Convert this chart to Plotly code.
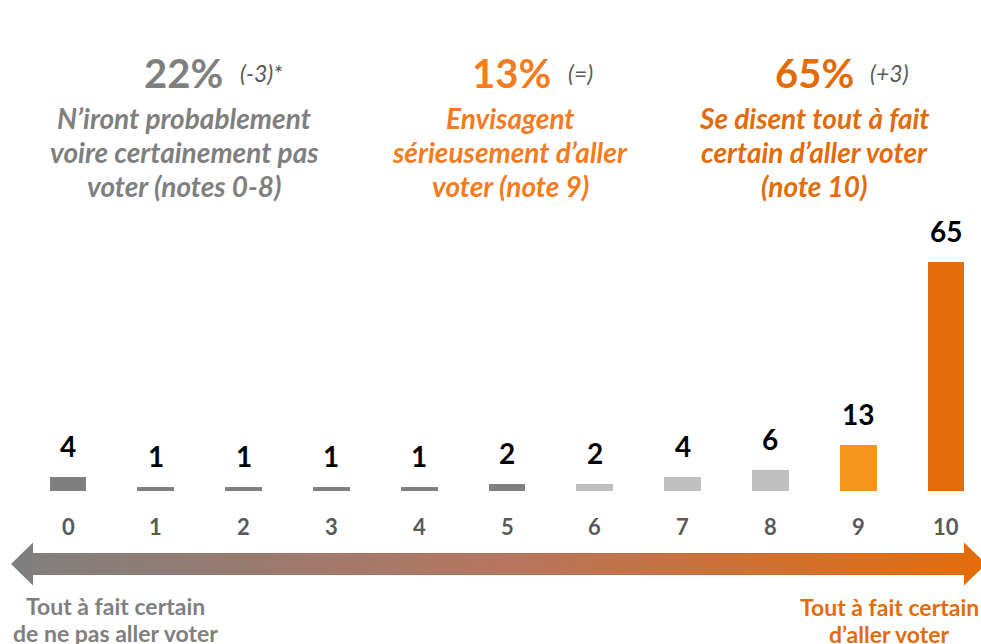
import plotly.graph_objects as go

# ---- data ----
categories = ["0", "1", "2", "3", "4", "5", "6", "7", "8", "9", "10"]
values = [4, 1, 1, 1, 1, 2, 2, 4, 6, 13, 65]
bar_colors = ["#7f7f7f"] * 6 + ["#bfbfbf"] * 3 + ["#f7941e", "#e46c0a"]

group_pct = ["22%", "13%", "65%"]
group_delta = ["(-3)*", "(=)", "(+3)"]
group_lines = [
    ["N’iront probablement", "voire certainement pas", "voter (notes 0-8)"],
    ["Envisagent", "sérieusement d’aller", "voter (note 9)"],
    ["Se disent tout à fait", "certain d’aller voter", "(note 10)"],
]
group_colors = ["#7f7f7f", "#f47b20", "#e36c0a"]
left_label = ["Tout à fait certain", "de ne pas aller voter"]
right_label = ["Tout à fait certain", "d’aller voter"]

# ---- layout constants (pixels) ----
W, H = 981, 644
FONT = "Lato"
x_px0, x_step = 68, 87.8          # pixel of category 0, pixel per category
base_px, unit_px = 491, 3.53      # pixel of y=0, pixels per unit

xr = [-x_px0 / x_step, (W - x_px0) / x_step]
yr = [-(H - base_px) / unit_px, base_px / unit_px]

fig = go.Figure()

# gradient arrow (decoration) in pixel axes
ay, half_shaft, half_head, head_len = 564, 11, 21.5, 22
left_tip, right_tip = 11, 986
arrow_x = [left_tip, left_tip + head_len, left_tip + head_len, right_tip - head_len,
           right_tip - head_len, right_tip, right_tip - head_len, right_tip - head_len,
           left_tip + head_len, left_tip + head_len, left_tip]
arrow_y = [ay, ay - half_head, ay - half_shaft, ay - half_shaft, ay - half_head, ay,
           ay + half_head, ay + half_shaft, ay + half_shaft, ay + half_head, ay]
fig.add_trace(go.Scatter(
    x=arrow_x, y=arrow_y, xaxis="x2", yaxis="y2", mode="lines",
    line=dict(width=0, color="rgba(0,0,0,0)"), fill="toself",
    fillgradient=dict(type="horizontal",
                      colorscale=[[0, "#7f7f7f"], [0.5, "#b57660"], [1, "#e46c0a"]]),
    hoverinfo="skip", showlegend=False,
))

fig.add_trace(go.Bar(
    x=list(range(len(categories))), y=values, width=0.42,
    marker=dict(color=bar_colors, line=dict(width=0)),
    showlegend=False, hoverinfo="skip",
))

ann = []
# value labels
for i, v in enumerate(values):
    ann.append(dict(x=i, y=v, xref="x", yref="y", text=f"<b>{v}</b>", showarrow=False,
                    yanchor="bottom", yshift=12,
                    font=dict(family=FONT, size=28, color="#000000")))
# category labels
for i, c in enumerate(categories):
    ann.append(dict(x=i, y=526, xref="x", yref="y2", text=f"<b>{c}</b>", showarrow=False,
                    yanchor="middle", font=dict(family=FONT, size=22, color="#595959")))

# headers
centers = [184, 510, 814]
pct_cx = [183, 511, 814]
delta_x = [238, 566, 868]
for g in range(3):
    ann.append(dict(x=pct_cx[g], y=73, xref="x2", yref="y2", text=f"<b>{group_pct[g]}</b>",
                    showarrow=False, xanchor="center", yanchor="middle",
                    font=dict(family=FONT, size=40, color=group_colors[g])))
    ann.append(dict(x=delta_x[g], y=73, xref="x2", yref="y2", text=f"<i>{group_delta[g]}</i>",
                    showarrow=False, xanchor="left", yanchor="middle",
                    font=dict(family=FONT, size=23, color="#595959")))
    for k, line in enumerate(group_lines[g]):
        ann.append(dict(x=centers[g], y=118 + 34 * k, xref="x2", yref="y2",
                        text=f"<b><i>{line}</i></b>", showarrow=False,
                        xanchor="center", yanchor="middle",
                        font=dict(family=FONT, size=28, color=group_colors[g])))

# bottom labels
for k, line in enumerate(left_label):
    ann.append(dict(x=115, y=606 + 27 * k, xref="x2", yref="y2", text=f"<b>{line}</b>",
                    showarrow=False, xanchor="center", yanchor="middle",
                    font=dict(family=FONT, size=23, color="#7f7f7f")))
for k, line in enumerate(right_label):
    ann.append(dict(x=889, y=607 + 27 * k, xref="x2", yref="y2", text=f"<b>{line}</b>",
                    showarrow=False, xanchor="center", yanchor="middle",
                    font=dict(family=FONT, size=23, color="#e36c0a")))

fig.update_layout(
    width=W, height=H, margin=dict(l=0, r=0, t=0, b=0),
    paper_bgcolor="white", plot_bgcolor="white",
    xaxis=dict(range=xr, visible=False, fixedrange=True),
    yaxis=dict(range=yr, visible=False, fixedrange=True),
    xaxis2=dict(range=[0, W], visible=False, overlaying="x", fixedrange=True),
    yaxis2=dict(range=[H, 0], visible=False, overlaying="y", fixedrange=True),
    annotations=ann,
    bargap=0,
)
fig.write_html("out.html", config={"displayModeBar": False},
               post_script="document.body.style.margin='0';document.body.style.overflow='hidden';")
